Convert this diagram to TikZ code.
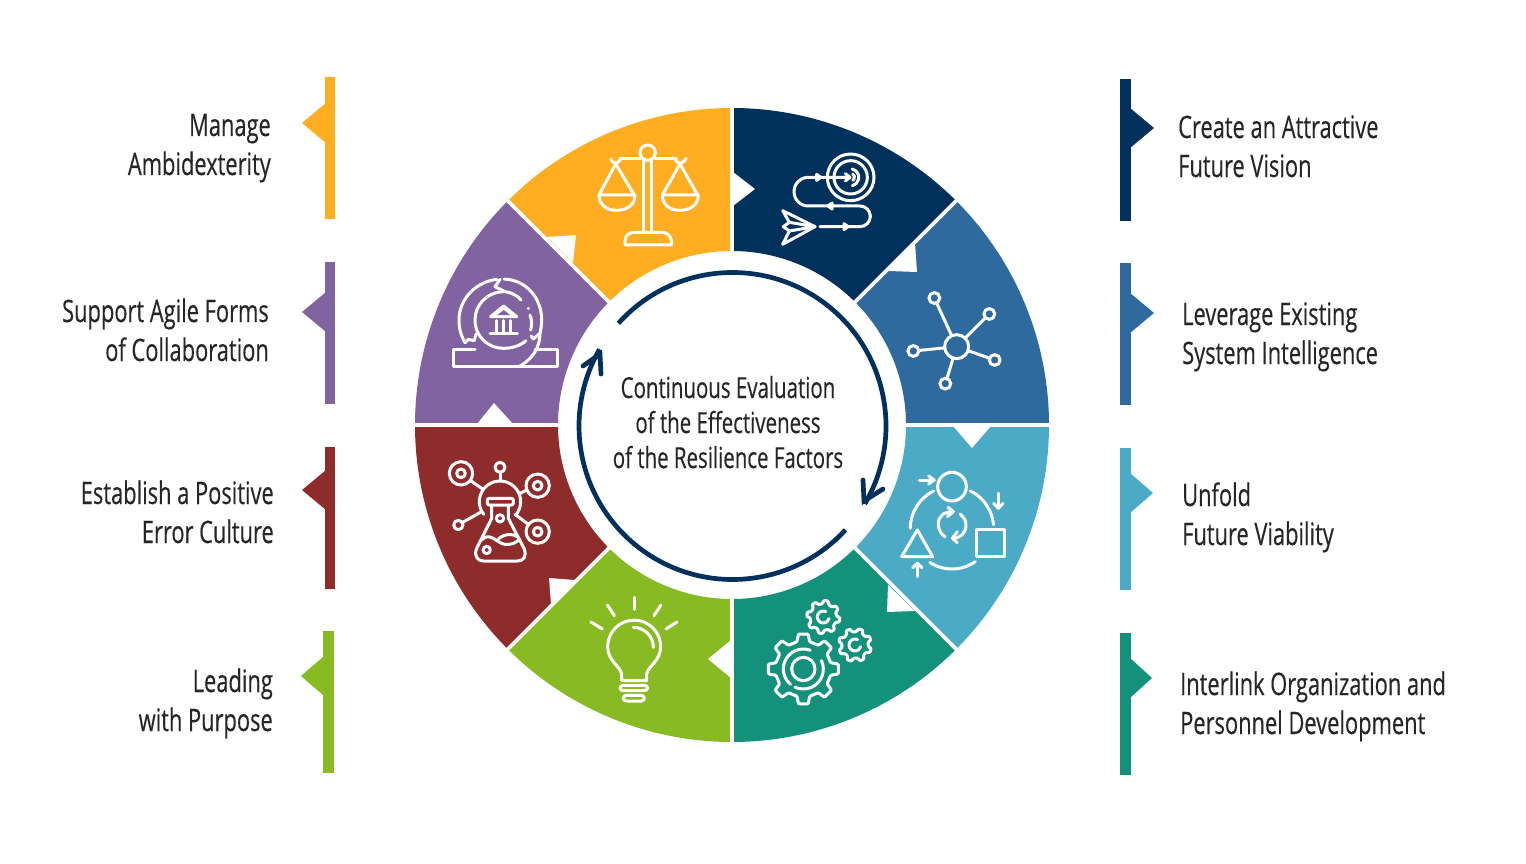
\documentclass[tikz,border=0pt]{standalone}
\usepackage{fontspec}
\setmainfont[FakeStretch=0.705,FakeBold=0.3]{Open Sans}
\definecolor{cnavy}{HTML}{00305C}
\definecolor{cblue}{HTML}{2E6A9E}
\definecolor{clight}{HTML}{4BABC6}
\definecolor{cteal}{HTML}{13917B}
\definecolor{cgreen}{HTML}{88BA24}
\definecolor{cred}{HTML}{8E2C2C}
\definecolor{cpurple}{HTML}{8063A0}
\definecolor{corange}{HTML}{FFAD21}
\definecolor{ink}{HTML}{262626}
\tikzset{
  lab/.style={font=\fontsize{31}{39}\selectfont,text=ink,inner sep=0pt},
  labl/.style={lab,align=left,anchor=base west},
  labr/.style={lab,align=right,anchor=base east},
  ic/.style={draw=white,line width=3pt,line cap=round,line join=round},
  hubnode/.style={circle,draw=white,line width=3pt,minimum size=24pt,inner sep=0pt,outer sep=0pt},
  satnode/.style={circle,draw=white,line width=3pt,minimum size=10.8pt,inner sep=0pt,outer sep=0pt},
  zm/.style 2 args={shift={(#1,#2)},x=0.33333pt,y=-0.33333pt},
  ringline/.style={draw=cnavy,line width=4.7pt},
  gap/.style={draw=white,line width=3.6pt},
}
\newcommand{\sector}[3]{%
  \fill[#1] (#2:174) -- (#2:317) arc[start angle=#2,end angle=#3,radius=317] -- (#3:174) arc[start angle=#3,end angle=#2,radius=174] -- cycle;}
\newcommand{\gearicon}[7]{%
  \begin{scope}[shift={(#1,#2)}]
  \draw[ic,rounded corners=1pt] (#7-#5:#4)
    \foreach \a in {0,45,...,315}{ -- (#7+\a-#5:#4) -- (#7+\a-#6:#3) -- (#7+\a+#6:#3) -- (#7+\a+#5:#4) } -- cycle;
  \end{scope}}
\begin{document}
\begin{tikzpicture}[x=1pt,y=-1pt]
\useasboundingbox (0,0) rectangle (1526,864);
\fill[white] (0,0) rectangle (1526,864);
% ring
\begin{scope}[shift={(732,425)}]
  \sector{cnavy}{-90}{-45}
  \sector{cblue}{-45}{0}
  \sector{clight}{0}{45}
  \sector{cteal}{45}{90}
  \sector{cgreen}{90}{135}
  \sector{cred}{135}{180}
  \sector{cpurple}{180}{225}
  \sector{corange}{225}{270}
  \draw[gap] (0:172) -- (0:320);
  \draw[gap] (45:172) -- (45:320);
  \draw[gap] (90:172) -- (90:320);
  \draw[gap] (135:172) -- (135:320);
  \draw[gap] (180:172) -- (180:320);
  \draw[gap] (225:172) -- (225:320);
  \draw[gap] (270:172) -- (270:320);
  \draw[gap] (315:172) -- (315:320);
\end{scope}
% notches
\fill[white] (733,172) -- (755,189) -- (733,206) -- cycle;
\fill[white] (889,271) -- (917,272) -- (915,243) -- cycle;
\fill[white] (953,426) -- (972,448) -- (991,426) -- cycle;
\fill[white] (887,612) -- (888,585) -- (915,611) -- cycle;
\fill[white] (731,640) -- (708,659) -- (731,678) -- cycle;
\fill[white] (549,578) -- (575,580) -- (551,604) -- cycle;
\fill[white] (477,424) -- (494,403) -- (513,424) -- cycle;
\fill[white] (547,237) -- (576,235) -- (573,263) -- cycle;
% side bars
\fill[corange] (325,77) rectangle (335,219);
\fill[corange] (326,103) -- (302,123) -- (326,143) -- cycle;
\fill[cpurple] (325,262) rectangle (335,404);
\fill[cpurple] (326,292) -- (302,312) -- (326,332) -- cycle;
\fill[cred] (325,447) rectangle (335,589);
\fill[cred] (326,470) -- (302,490) -- (326,510) -- cycle;
\fill[cgreen] (323,631) rectangle (334,773);
\fill[cgreen] (324,656) -- (301,676) -- (324,696) -- cycle;
\fill[cnavy] (1120,79) rectangle (1131,221);
\fill[cnavy] (1130,108) -- (1154,128) -- (1130,148) -- cycle;
\fill[cblue] (1120,263) rectangle (1131,405);
\fill[cblue] (1130,293) -- (1154,313) -- (1130,333) -- cycle;
\fill[clight] (1120,448) rectangle (1131,590);
\fill[clight] (1130,473) -- (1153,493) -- (1130,513) -- cycle;
\fill[cteal] (1120,633) rectangle (1131,775);
\fill[cteal] (1130,658) -- (1152,678) -- (1130,698) -- cycle;
% labels (base anchor = baseline of the last line)
\node[labr] (tManage) at (271,175) {Manage\\Ambidexterity};
\node[labr] (tAgile) at (269,361) {Support Agile Forms\\of Collaboration};
\node[labr] (tError) at (274,543) {Establish a Positive\\Error Culture};
\node[labr] (tPurpose) at (273,731) {Leading\\with Purpose};
\node[labl] (tVision) at (1178,177) {Create an Attractive\\Future Vision};
\node[labl] (tSystem) at (1182,364) {Leverage Existing\\System Intelligence};
\node[labl] (tViable) at (1182,545) {Unfold\\Future Viability};
\node[labl] (tLink) at (1180,734) {Interlink Organization and\\Personnel Development};
\node[font=\fontsize{29}{35}\selectfont,text=ink,inner sep=0pt,align=center,anchor=base] (tCentre) at (728,468) {Continuous Evaluation\\of the Effectiveness\\of the Resilience Factors};
% central cycle
\begin{scope}[shift={(732.5,426)}]
  \draw[ringline] (-138:153.5) arc[start angle=-138,end angle=30.5,radius=153.5];
  \draw[ringline] (42.6:153.5) arc[start angle=42.6,end angle=210,radius=153.5];
\end{scope}
\draw[ringline,line cap=round,miter limit=10] (863,480) -- (864,501) -- (883,489);
\draw[ringline,line cap=round,miter limit=10] (583,366) -- (600,354) -- (601,374);
% icon: target and paper plane
\begin{scope}[zm={770}{145}]
  \draw[ic] (242,97) circle (70);
  \draw[ic] (242,97) circle (50);
  \draw[ic] (247,72) arc[start angle=-75,end angle=75,radius=26];
  \draw[ic] (248,87) arc[start angle=-60,end angle=60,radius=11];
  \draw[ic] (238,97) -- (115,97) arc[start angle=-90,end angle=-270,radius=43] -- (270,183) arc[start angle=-90,end angle=90,radius=31] -- (150,245);
  \draw[ic] (226,86) -- (240,97) -- (226,108);
  \draw[ic,fill=white] (140,88) -- (152,97) -- (140,106) -- cycle;
  \draw[ic,fill=white] (186,174) -- (174,183) -- (186,192) -- cycle;
  \draw[ic,fill=white] (222,236) -- (234,245) -- (222,254) -- cycle;
  \draw[ic] (135,245) -- (38,197) -- (58,232) -- (40,245) -- (58,258) -- (38,298) -- cycle;
  \draw[ic] (58,232) -- (135,245) -- (58,258);
\end{scope}
% icon: network
\begin{scope}[zm={730}{100}]
  \node[hubnode] (hub) at (680,740) {};
  \node[satnode] (s1) at (613,594) {};
  \node[satnode] (s2) at (778,642) {};
  \node[satnode] (s3) at (550,753) {};
  \node[satnode] (s4) at (794,780) {};
  \node[satnode] (s5) at (646,851) {};
  \draw[ic] (hub) -- (s1);
  \draw[ic] (hub) -- (s2);
  \draw[ic] (hub) -- (s3);
  \draw[ic] (hub) -- (s4);
  \draw[ic] (hub) -- (s5);
\end{scope}
% icon: cycle of shapes
\begin{scope}[zm={730}{420}]
  \draw[ic] (666,200) circle (43);
  \draw[ic] (740,328) rectangle (822,410);
  \draw[ic] (562,330) -- (515,410) -- (608,410) -- cycle;
  \draw[ic] (666,325) ++(180:125) arc[start angle=180,end angle=244,radius=125];
  \draw[ic] (666,325) ++(-64:125) arc[start angle=-64,end angle=-5,radius=125];
  \draw[ic] (666,325) ++(55:122) arc[start angle=55,end angle=123,radius=122];
  \draw[ic] (568,180) -- (612,180);
  \draw[ic] (596,168) -- (612,180) -- (596,192);
  \draw[ic] (805,220) -- (805,265);
  \draw[ic] (791,250) -- (805,265) -- (819,250);
  \draw[ic] (562,470) -- (562,430);
  \draw[ic] (548,443) -- (562,430) -- (576,443);
  \draw[ic] (668,275) .. controls (640,275) and (625,290) .. (625,312) .. controls (625,330) and (635,345) .. (645,350);
  \draw[ic] (654,262) -- (670,275) -- (652,290);
  \draw[ic] (690,282) .. controls (702,292) and (708,302) .. (708,315) .. controls (708,340) and (690,355) .. (668,355);
  \draw[ic] (682,335) -- (667,355) -- (682,368);
\end{scope}
% icon: gears
\begin{scope}[zm={760}{595}]
  \gearicon{130}{222}{106}{84}{13}{8}{-90}
  \gearicon{190}{66}{50}{40}{13}{8}{-80}
  \gearicon{285}{150}{50}{40}{13}{8}{-70}
  \draw[ic] (130,222) circle (35);
  \draw[ic] (130,222) ++(-70:60) arc[start angle=-70,end angle=-230,radius=60];
  \draw[ic] (130,222) ++(-25:60) arc[start angle=-25,end angle=115,radius=60];
  \draw[ic] (190,66) ++(-65:18) arc[start angle=-65,end angle=-345,radius=18];
  \draw[ic] (285,150) ++(-65:18) arc[start angle=-65,end angle=-345,radius=18];
\end{scope}
% icon: light bulb
\begin{scope}[zm={405}{420}]
  \draw[ic] (650,782) -- (650,762) .. controls (645,738) and (608,722) .. (608,680) arc[start angle=180,end angle=360,radius=79.5] .. controls (767,722) and (730,738) .. (725,762) -- (725,782) -- cycle;
  \draw[ic] (685,622) arc[start angle=-90,end angle=0,radius=60];
  \draw[ic,rounded corners=3pt] (645,796) rectangle (728,812);
  \draw[ic,rounded corners=3pt] (655,826) rectangle (718,843);
  \draw[ic] (687,532) -- (687,568);
  \draw[ic] (607,555) -- (628,587);
  \draw[ic] (768,555) -- (747,587);
  \draw[ic] (558,606) -- (592,627);
  \draw[ic] (816,606) -- (783,627);
\end{scope}
% icon: flask
\begin{scope}[zm={440}{455}]
  \draw[ic] (180,140) ++(142:62) arc[start angle=142,end angle=396,radius=62];
  \draw[ic,rounded corners=2pt] (142,130) rectangle (220,150);
  \draw[ic] (155,150) -- (155,190) -- (110,280) .. controls (100,305) and (115,318) .. (130,318) -- (232,318) .. controls (250,318) and (262,305) .. (252,280) -- (205,190) -- (205,150);
  \draw[ic] (125,255) .. controls (150,228) and (170,265) .. (195,268) .. controls (215,270) and (232,262) .. (238,252);
  \draw[ic] (175,252) .. controls (195,235) and (215,235) .. (232,245);
  \draw[ic] (180,190) circle (11);
  \draw[ic] (140,285) circle (11);
  \draw[ic] (63,55) circle (35);
  \draw[ic] (63,55) circle (13);
  \draw[ic] (293,92) circle (35);
  \draw[ic] (293,92) circle (13);
  \draw[ic] (293,230) circle (35);
  \draw[ic] (293,230) circle (13);
  \draw[ic] (180,37) circle (15);
  \draw[ic] (55,210) circle (14);
  \draw[ic] (180,52) -- (180,78);
  \draw[ic] (68,202) -- (125,170);
  \draw[ic] (93,78) -- (128,102);
  \draw[ic] (260,105) -- (238,116);
  \draw[ic] (265,208) -- (225,178);
\end{scope}
% icon: bank in swirl
\begin{scope}[zm={440}{270}]
  \draw[ic] (105,238) -- (40,238) -- (40,290) -- (352,290) -- (352,238) -- (285,238);
  \draw[ic] (170,28) .. controls (110,35) and (57,85) .. (57,150) .. controls (57,180) and (65,200) .. (75,218) -- (85,208) -- (103,212) -- (108,192);
  \draw[ic] (192,27) .. controls (260,30) and (305,85) .. (305,150) .. controls (305,165) and (303,175) .. (300,190) -- (280,207) -- (273,198);
  \draw[ic] (300,190) .. controls (300,230) and (280,265) .. (240,288);
  \draw[ic] (180,28) -- (165,50) -- (195,65);
  \draw[ic] (195,65) .. controls (215,68) and (230,75) .. (243,90);
  \draw[ic] (195,65) .. controls (140,65) and (105,105) .. (105,150) .. controls (105,200) and (145,235) .. (190,235) .. controls (215,235) and (240,228) .. (258,212);
  \draw[ic] (270,135) .. controls (276,150) and (276,165) .. (272,180);
  \fill[white] (265,115) circle (5);
  \draw[ic,fill=white] (191,108) -- (152,140) -- (230,140) -- cycle;
  \fill[cpurple] (191,120) -- (172,135) -- (210,135) -- cycle;
  \draw[ic] (168,152) -- (168,185);
  \draw[ic] (190,152) -- (190,185);
  \draw[ic] (212,152) -- (212,185);
  \draw[ic] (150,190) -- (232,190);
\end{scope}
% icon: scales
\begin{scope}[zm={405}{100}]
  \draw[ic] (728,158) circle (23);
  \draw[ic] (714,182) -- (714,397);
  \draw[ic] (740,182) -- (740,397);
  \draw[ic] (645,177) -- (707,177);
  \draw[ic] (750,177) -- (815,177);
  \draw[ic] (660,435) -- (800,435) -- (800,422) .. controls (795,405) and (785,397) .. (770,397) -- (690,397) .. controls (672,397) and (662,405) .. (660,422) -- cycle;
  \draw[ic] (618,177) .. controls (620,192) and (640,195) .. (648,175);
  \draw[ic] (810,177) .. controls (815,195) and (838,192) .. (843,175);
  \draw[ic] (632,192) -- (582,285) -- (688,285) -- cycle;
  \draw[ic] (582,285) .. controls (582,315) and (605,331) .. (635,331) .. controls (665,331) and (690,315) .. (690,285);
  \draw[ic] (825,192) -- (772,285) -- (878,285) -- cycle;
  \draw[ic] (772,285) .. controls (772,315) and (795,331) .. (825,331) .. controls (855,331) and (880,315) .. (880,285);
\end{scope}
\end{tikzpicture}
\end{document}
